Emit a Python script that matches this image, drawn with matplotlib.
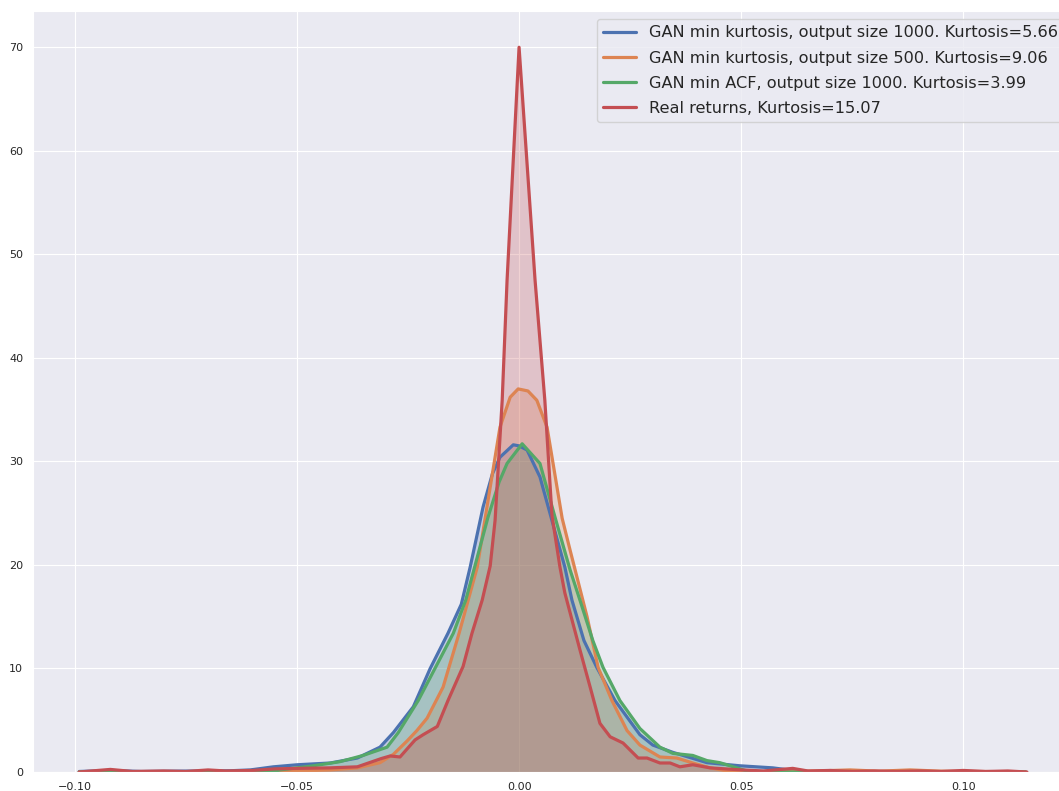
import numpy as np
import matplotlib
matplotlib.use("Agg")
import matplotlib.pyplot as plt
import seaborn as sns

sns.set_style("darkgrid")
plt.rcParams['font.family'] = ['DejaVu Sans']

# density curves (x = return, y = density)
blue_x = [-0.099, -0.092, -0.085, -0.078, -0.070, -0.065, -0.0605, -0.0553, -0.0499, -0.0425,
          -0.0364, -0.0313, -0.0283, -0.0238, -0.0200, -0.0160, -0.0130, -0.0110, -0.0081,
          -0.0060, -0.0043, -0.0013, 0.0, 0.0018, 0.0047, 0.0074, 0.0103, 0.0119, 0.0146,
          0.0175, 0.0216, 0.0272, 0.0301, 0.0346, 0.0423, 0.0497, 0.0571, 0.0616, 0.066,
          0.075, 0.090, 0.105, 0.114]
blue_y = [0.05, 0.15, 0.05, 0.08, 0.1, 0.12, 0.2, 0.5, 0.7, 0.87,
          1.35, 2.4, 3.8, 6.3, 10.0, 13.4, 16.2, 19.8, 25.6,
          28.8, 30.4, 31.6, 31.5, 31.1, 28.5, 24.3, 19.8, 16.6, 12.7,
          10.1, 6.9, 3.6, 2.6, 1.9, 0.9, 0.6, 0.4, 0.15, 0.02,
          0.0, 0.0, 0.0, 0.0]

orange_x = [-0.099, -0.080, -0.060, -0.0499, -0.0425, -0.0364, -0.0313, -0.0283, -0.0252,
            -0.0230, -0.0207, -0.0171, -0.0135, -0.0094, -0.0076, -0.0043, -0.0020, -0.0002,
            0.0020, 0.0040, 0.0063, 0.0097, 0.0115, 0.0153, 0.0178, 0.0209, 0.0243, 0.0272,
            0.0317, 0.0355, 0.0391, 0.0430, 0.0468, 0.050, 0.060, 0.067, 0.0745, 0.081,
            0.088, 0.095, 0.103, 0.110, 0.114]
orange_y = [0.0, 0.0, 0.0, 0.1, 0.2, 0.4, 0.9, 1.7, 3.0,
            4.0, 5.2, 8.2, 13.4, 19.8, 24.6, 33.3, 36.2, 37.0,
            36.8, 35.9, 33.3, 24.5, 21.4, 15.0, 10.1, 6.9, 4.0, 2.6,
            1.45, 1.35, 0.87, 0.4, 0.1, 0.02, 0.05, 0.1, 0.2, 0.08,
            0.2, 0.08, 0.05, 0.03, 0.0]

green_x = [-0.099, -0.080, -0.065, -0.0553, -0.0538, -0.0463, -0.0403, -0.0351, -0.0297,
           -0.0272, -0.0227, -0.0148, -0.0120, -0.0070, -0.0045, -0.0027, 0.0007, 0.0047,
           0.0081, 0.0115, 0.0137, 0.0166, 0.0189, 0.0227, 0.0272, 0.0317, 0.0346, 0.0391,
           0.0423, 0.0452, 0.0490, 0.0513, 0.055, 0.070, 0.090, 0.114]
green_y = [0.0, 0.0, 0.0, 0.05, 0.2, 0.6, 1.0, 1.6, 2.4,
           3.8, 6.9, 13.4, 16.6, 24.6, 28.0, 29.8, 31.7, 29.8,
           24.6, 19.5, 16.6, 12.7, 10.1, 6.9, 4.2, 2.4, 1.8, 1.6,
           1.1, 0.9, 0.4, 0.1, 0.0, 0.0, 0.0, 0.0]

red_x = [-0.099, -0.092, -0.087, -0.080, -0.075, -0.070, -0.066, -0.060, -0.055, -0.050,
         -0.0425, -0.0364, -0.0310, -0.0290, -0.0268, -0.0234, -0.0216, -0.0184, -0.0160,
         -0.0126, -0.0106, -0.0083, -0.0065, -0.0054, -0.0038, -0.0027, 0.0, 0.0036,
         0.0058, 0.0074, 0.0092, 0.0103, 0.0137, 0.0160, 0.0182, 0.0205, 0.0234, 0.0268,
         0.0288, 0.0317, 0.0340, 0.0362, 0.0391, 0.0430, 0.050, 0.055, 0.0616, 0.065,
         0.070, 0.075, 0.080, 0.085, 0.090, 0.095, 0.100, 0.105, 0.110, 0.1143]
red_y = [0.0, 0.25, 0.05, 0.1, 0.05, 0.2, 0.1, 0.15, 0.3, 0.35,
         0.4, 0.5, 1.3, 1.55, 1.45, 3.1, 3.6, 4.4, 6.9,
         10.2, 13.4, 16.6, 19.9, 24.3, 35.9, 47.5, 70.0, 47.5,
         35.9, 24.8, 19.8, 17.3, 11.8, 8.2, 4.7, 3.4, 2.8, 1.35,
         1.35, 0.87, 0.87, 0.5, 0.7, 0.4, 0.2, 0.1, 0.35, 0.1,
         0.15, 0.05, 0.1, 0.05, 0.1, 0.05, 0.15, 0.05, 0.1, 0.0]

labels = ["GAN min kurtosis, output size 1000. Kurtosis=5.66",
          "GAN min kurtosis, output size 500. Kurtosis=9.06",
          "GAN min ACF, output size 1000. Kurtosis=3.99",
          "Real returns, Kurtosis=15.07"]
colors = sns.color_palette("deep")[:4]

fig = plt.figure(figsize=(10.59, 7.91), dpi=100)
ax = fig.add_axes([33 / 1059, 1 - 772 / 791, 1045 / 1059, 761 / 791])

for xs, ys, c, lab in zip([blue_x, orange_x, green_x, red_x],
                          [blue_y, orange_y, green_y, red_y], colors, labels):
    ax.plot(xs, ys, color=c, lw=2.3, label=lab)
    ax.fill_between(xs, 0, ys, color=c, alpha=0.25, lw=0)

ax.set_xlim(-0.1094, 0.1258)
ax.set_ylim(0, 73.5)
ax.set_xticks([-0.10, -0.05, 0.0, 0.05, 0.10])
ax.set_xticklabels(["\u22120.10", "\u22120.05", "0.00", "0.05", "0.10"])
ax.set_yticks(range(0, 80, 10))
ax.tick_params(labelsize=8)
ax.legend(loc="upper left", fontsize=11.65, labelspacing=0.62,
          bbox_to_anchor=(597 / 1059, 1 - 19 / 791), bbox_transform=fig.transFigure,
          borderaxespad=0)

fig.savefig("out.png", dpi=100)
